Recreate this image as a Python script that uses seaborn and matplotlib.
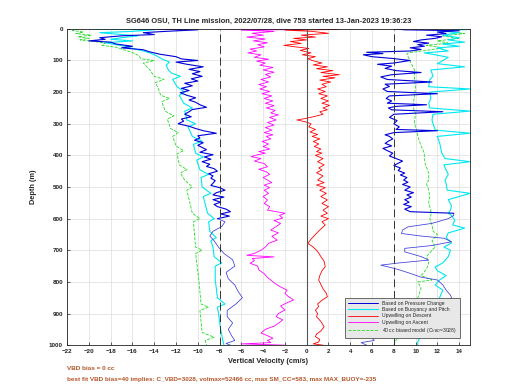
import matplotlib
matplotlib.use("Agg")
import matplotlib.pyplot as plt
import seaborn as sns
import pandas as pd

# ---- data (depth in m, velocity in cm/s) ----
bp_dn_depth = [0, 3, 8, 12, 18, 22, 28, 33, 38, 42, 48, 55, 60, 66, 72, 80, 88, 95, 100, 105,
               112, 120, 128, 135, 142, 150, 158, 165, 172, 180, 188, 195, 202, 210, 218, 225,
               232, 240, 248, 255, 262, 270, 278, 285, 292, 300, 308, 315, 322, 330, 338, 345,
               352, 360, 368, 375, 382, 390, 398, 405, 412, 420, 428, 435, 442, 450, 458, 465,
               472, 480, 488, 495, 502, 510, 518, 525, 532, 540, 548, 555, 562, 570, 578, 585,
               592, 600, 610, 625, 640, 655, 670, 690, 710, 730, 750, 770, 790, 810, 830, 850,
               870, 890, 910, 930, 950, 970, 985, 995, 1000]
bp_dn_vel = [-16, -10, -13, -15, -14, -17, -19, -18.5, -20, -18, -17.5, -16, -17, -15, -14.5,
             -13.5, -12, -11.5, -10, -12, -11, -9.5, -10.8, -9.8, -10.5, -9.6, -10.6, -10, -11.2,
             -10.5, -11.5, -10.8, -11.6, -11, -10.2, -10.8, -10.2, -9.8, -9.2, -10.5, -10.8,
             -11.2, -10.6, -11.5, -11.3, -11.8, -10.8, -10.2, -9.5, -8.3, -10, -9.8, -10.3, -9.5,
             -10, -9.6, -9.2, -9.8, -8.6, -9.4, -8.8, -9.6, -8.9, -9.2, -8.5, -8.2, -9, -8.6,
             -8.8, -8.4, -8.6, -8.8, -8.0, -7.5, -8.3, -8.6, -7.6, -8.6, -7.9, -8.5, -8.2, -7.4,
             -7.0, -7.9, -7.1, -8.2, -7.5, -7.8, -8.6, -8.9, -8.5, -8.1, -7.6, -6.8, -6.6, -7.4,
             -7.2, -6.6, -6.3, -5.9, -6.5, -7.3, -7.3, -6.8, -7.2, -6.9, -6.6, -7.4, -7.0]

bp_up_depth = [1000, 992, 985, 975, 960, 940, 920, 900, 880, 860, 850, 842, 826, 810, 794, 785,
               773, 762, 757, 747, 740, 731, 720, 705, 694, 685, 673, 662, 655, 647, 636, 626,
               615, 600, 590, 583, 578, 570, 562, 555, 548, 540, 532, 525, 518, 510, 500, 492,
               485, 478, 470, 462, 456, 448, 440, 432, 425, 418, 410, 402, 393, 385, 378, 370,
               362, 355, 348, 340, 335, 328, 322, 318, 310, 300, 290, 280, 270, 262, 256, 250,
               245, 240, 235, 228, 220, 212, 205, 198, 190, 182, 175, 168, 160, 152, 145, 138,
               132, 125, 118, 112, 108, 100, 94, 88, 82, 78, 74, 70, 65, 60, 55, 50, 45, 40, 35,
               30, 25, 20, 15, 10, 6, 3, 0]
bp_up_vel = [5.5, 5.0, 6.2, 6.0, 7.5, 9, 10.5, 11.5, 12.5, 13, 13.3, 13.2, 12.8, 12.5, 12, 10.5,
             9.5, 8.5, 8, 6.8, 8.5, 11.2, 10.5, 9, 9, 11.5, 13.3, 12.6, 10.5, 8.7, 8.8, 9.3, 11.5,
             13, 13.5, 13.5, 9.5, 9.0, 9.6, 8.9, 9.4, 9.0, 9.6, 9.2, 9.8, 9.0, 9.5, 8.8, 9.3, 8.9,
             9.2, 8.6, 9.0, 8.4, 8.6, 8.0, 8.4, 8.8, 8.2, 7.6, 7.9, 7.4, 7.0, 7.8, 7.2, 7.5, 7.9,
             7.6, 7.2, 8.0, 12, 8.2, 8.5, 8.0, 8.3, 7.6, 8.0, 12.5, 7.8, 7.5, 8.2, 11, 7.4, 7.8,
             7.3, 7.6, 12, 7.4, 7.0, 7.6, 7.2, 11.5, 7.4, 6.8, 7.8, 10.5, 8.2, 7.2, 7.8, 6.5, 8.0,
             9.5, 8.0, 6.0, 5.2, 7.0, 5.5, 9.5, 10.5, 9.5, 10.8, 10.2, 11.2, 9.8, 10.5, 11.8,
             12.4, 11.0, 12.8, 12, 14, 9, 8]

cy_dn_depth = [0, 3, 8, 12, 18, 22, 28, 33, 38, 44, 50, 56, 62, 70, 76, 85, 95, 105, 115, 130,
               140, 150, 160, 183, 200, 210, 235, 250, 260, 288, 300, 310, 340, 355, 365, 393,
               405, 415, 446, 460, 470, 500, 520, 530, 583, 600, 610, 640, 660, 670, 690, 720,
               740, 750, 794, 820, 850, 870, 880, 900, 950, 985, 1000]
cy_dn_vel = [-20, -14, -16, -19, -17, -15.5, -17, -18, -16, -18.5, -17.5, -16.5, -16, -15, -14.4,
             -13.8, -13.3, -12.6, -12.9, -12.7, -12.4, -11.6, -12.3, -11.9, -11.2, -11.7, -11.3,
             -10.5, -11.2, -11.0, -10.2, -10.9, -10.5, -9.6, -10.4, -10.2, -9.5, -10.1, -9.8,
             -9.0, -9.7, -9.6, -8.8, -9.5, -9.1, -8.5, -9.0, -8.9, -8.3, -8.8, -8.6, -8.5, -7.8,
             -8.4, -8.4, -8.3, -8.2, -7.5, -8.2, -8.1, -7.9, -7.7, -7.6]

cy_up_depth = [1000, 990, 975, 960, 940, 900, 870, 850, 826, 810, 794, 780, 765, 753, 740, 720,
               700, 690, 677, 660, 645, 630, 620, 605, 590, 583, 573, 560, 540, 520, 510, 490,
               478, 460, 446, 430, 420, 410, 393, 375, 360, 340, 330, 320, 300, 288, 270, 260,
               250, 235, 220, 200, 190, 183, 160, 150, 130, 120, 110, 100, 90, 80, 76, 70, 60, 55,
               48, 42, 35, 28, 20, 12, 6, 2, 0]
cy_up_vel = [10.2, 10.2, 10.4, 10.5, 11, 11.5, 12, 12.2, 12.5, 11.8, 12.2, 12.8, 12.0, 11.8,
             12.5, 13.0, 13.2, 12.6, 13.3, 12.8, 13.0, 14.5, 13.4, 13.6, 13.3, 13.0, 13.2, 13.3,
             13.0, 15, 12.9, 12.8, 12.7, 13, 12.8, 12.6, 15, 12.7, 12.4, 12.3, 12.2, 12.0, 15,
             11.8, 11.6, 11.5, 11.6, 15, 11.3, 11.2, 11.4, 11.3, 15, 11.2, 11.3, 11.6, 11.4, 14.5,
             12, 12.5, 13, 11.5, 10.8, 13, 12, 14, 12.5, 14.5, 13, 14, 12.5, 14, 12, 14.8, 15]

gr_dn_depth = [0, 5, 10, 15, 20, 25, 30, 35, 40, 45, 52, 58, 66, 75, 85, 95, 100, 108, 130, 150,
               160, 170, 183, 210, 220, 230, 260, 275, 285, 315, 328, 340, 370, 385, 395, 430,
               445, 456, 478, 500, 510, 583, 600, 610, 690, 700, 710, 794, 870, 880, 890, 960,
               975, 985, 1000]
gr_dn_vel = [-21, -21.5, -20.5, -21.2, -19.8, -21, -20, -20.8, -19.5, -18.5, -18.8, -17.5, -16.8,
             -16.0, -15.4, -15.2, -14, -15, -14.4, -14.0, -13.1, -13.9, -13.7, -13.4, -12.6,
             -13.3, -13.0, -12.2, -12.8, -12.5, -11.8, -12.3, -12.0, -11.3, -11.9, -11.7, -11.0,
             -11.6, -11.2, -10.5, -11.0, -10.5, -9.8, -10.4, -10.2, -9.6, -10.2, -9.9, -9.7,
             -9.0, -9.8, -9.6, -8.5, -9.3, -9.2]

gr_up_depth = [1000, 985, 970, 950, 920, 900, 870, 840, 820, 800, 794, 780, 760, 740, 720, 700,
               690, 670, 650, 640, 620, 600, 590, 573, 550, 530, 510, 490, 478, 456, 446, 430,
               410, 393, 370, 340, 320, 300, 288, 270, 250, 235, 210, 183, 160, 130, 110, 95, 80,
               76, 68, 60, 52, 45, 38, 30, 22, 15, 8, 3, 0]
gr_up_vel = [8.0, 8.2, 8.5, 9.0, 9.5, 9.8, 10, 10.3, 10.5, 10.2, 11.5, 10.5, 11, 11.2, 11, 11.5,
             11.8, 11.5, 12, 11.6, 11.5, 11.3, 11.4, 11.4, 11.2, 11.3, 11.2, 11.0, 11.2, 11.2,
             11.1, 10.9, 10.8, 10.8, 10.5, 10.2, 10.1, 9.9, 9.9, 10.0, 9.8, 9.8, 9.9, 10.0, 9.9,
             9.9, 9.6, 9.4, 9.2, 9.3, 11, 12.5, 11, 13, 12, 14, 12.5, 14.5, 13, 14, 15]

mg_depth = [0, 2, 4, 8, 14, 20, 26, 32, 38, 44, 50, 57, 64, 70, 76, 82, 90, 96, 102, 108, 115,
            122, 130, 137, 144, 152, 160, 168, 176, 183, 190, 198, 205, 212, 220, 228, 235, 243,
            250, 258, 266, 272, 280, 288, 296, 304, 312, 320, 328, 335, 340, 348, 356, 364, 372,
            380, 388, 393, 398, 404, 410, 418, 426, 436, 444, 452, 460, 470, 478, 486, 494, 502,
            510, 520, 530, 541, 552, 562, 573, 583, 590, 598, 606, 615, 625, 636, 645, 656, 668,
            678, 690, 700, 710, 716, 721, 726, 733, 741, 750, 762, 774, 786, 794, 805, 816, 826,
            836, 846, 857, 866, 876, 889, 900, 910, 920, 931, 940, 950, 962, 970, 978, 985, 992,
            996, 1000]
mg_vel = [-7.5, 0, -6, -3, -5, -4, -5.5, -3.8, -4.9, -3.6, -4.5, -3.9, -5.2, -4.6, -5.4, -4.2,
          -4.8, -3.5, -4.6, -3.8, -4.3, -3.1, -4.0, -3.0, -3.8, -3.3, -4.2, -3.5, -4.4, -3.7,
          -4.3, -3.4, -4.1, -3.2, -3.9, -3.1, -3.8, -3.0, -3.7, -2.9, -3.3, -2.6, -3.4, -2.8,
          -3.6, -3.0, -3.8, -3.2, -3.9, -3.1, -3.7, -3.3, -4.1, -3.5, -4.0, -3.4, -4.4, -3.8,
          -4.5, -5.1, -4.2, -4.8, -3.9, -3.6, -4.4, -3.7, -3.4, -4.0, -3.6, -3.2, -3.9, -3.4,
          -3.9, -3.5, -4.0, -3.6, -3.9, -3.4, -3.6, -2.0, -2.5, -2.2, -3.0, -2.4, -2.8, -3.3,
          -2.6, -3.2, -2.7, -3.5, -3.8, -4.2, -4.8, -5.5, -3.0, -5.0, -4.8, -5.2, -4.5, -4.4,
          -3.9, -3.6, -3.3, -2.9, -2.4, -1.8, -2.0, -1.7, -1.2, -1.8, -2.4, -2.0, -2.6, -2.8,
          -2.2, -2.6, -3.0, -3.8, -4.2, -3.6, -3.1, -3.6, -3.3, -6.0, -2.0]

rd_depth = [0, 2, 4, 8, 14, 20, 26, 30, 35, 40, 46, 52, 57, 62, 68, 76, 82, 88, 94, 100, 108,
            114, 120, 126, 132, 138, 145, 150, 155, 162, 168, 175, 183, 190, 198, 205, 212, 220,
            228, 235, 242, 250, 256, 262, 270, 278, 284, 288, 294, 300, 310, 318, 326, 334, 340,
            348, 356, 364, 372, 380, 388, 393, 400, 410, 420, 430, 440, 446, 455, 465, 478, 486,
            494, 502, 510, 520, 530, 541, 552, 562, 573, 583, 592, 600, 610, 620, 636, 650, 665,
            678, 690, 700, 709, 720, 735, 752, 765, 780, 794, 808, 822, 836, 847, 858, 870, 878,
            890, 900, 910, 925, 942, 955, 965, 973, 982, 990, 996, 1000]
rd_vel = [1, 3.0, -2, 0.5, 2.0, -0.5, 0.8, -1.2, 0.0, -1.5, -0.5, -2.1, -1.0, 0.2, -0.6, 0.4,
          -0.4, 0.8, 0.1, 0.5, 1.4, 0.6, 1.9, 0.9, 2.4, 1.3, 3.0, 1.5, 2.6, 1.2, 2.2, 1.4, 1.8,
          1.0, 1.7, 1.1, 1.9, 1.3, 2.0, 1.4, 2.1, 1.5, 1.9, 1.2, 1.5, 0.6, -0.2, -0.9, -0.1, 0.4,
          0.2, 0.8, 0.3, 1.0, 0.5, 1.2, 0.6, 1.1, 0.7, 1.3, 0.9, 1.4, 0.8, 1.5, 1.0, 1.6, 1.1,
          1.4, 0.9, 1.5, 1.0, 1.6, 0.9, 1.7, 1.2, 1.8, 1.3, 1.9, 1.4, 2.0, 1.5, 1.9, 1.3, 2.0,
          1.4, 1.7, 1.2, 0.8, 0.4, 0.1, 0.6, 0.9, 1.1, 1.3, 1.6, 1.7, 1.4, 1.2, 1.1, 1.3, 1.5,
          1.8, 1.9, 1.4, 1.0, 1.1, 0.8, 1.0, 0.9, 1.3, 1.6, 1.3, 0.9, 0.8, 1.2, 1.1, 0.6, 1.5]

x_ticks = list(range(-22, 16, 2))
y_ticks = list(range(0, 1001, 100))
title = "SG646 OSU, TH Line mission, 2022/07/28, dive 753 started 13-Jan-2023 19:36:23"
note1 = "VBD bias = 0 cc"
note2 = ("best fit VBD bias=40 implies: C_VBD=3028, volmax=52466 cc, "
         "max SM_CC=583, max MAX_BUOY=-235")

BLUE = "#0000d8"
BLUE_THIN = "#3c3cdc"
CYAN = "#00e8f0"
RED = "#ff0000"
MAG = "#ff00ff"
GREEN = "#22dd22"

sns.set_theme(style="whitegrid", rc={
    "grid.color": "#e2e2e2", "grid.linewidth": 0.6,
    "axes.edgecolor": "#222222", "axes.linewidth": 0.6,
    "xtick.direction": "in", "ytick.direction": "in",
    "xtick.bottom": True, "ytick.left": True,
    "xtick.major.size": 2.5, "ytick.major.size": 2.5,
    "xtick.major.width": 0.5, "ytick.major.width": 0.5,
})
plt.rcParams["font.family"] = ["Liberation Sans", "DejaVu Sans"]

fig = plt.figure(figsize=(5.2, 3.9), dpi=100)
ax = fig.add_axes([0.129, 0.115, 0.775, 0.811])


def prof(depth, vel, color, ls="-", lw=0.6):
    df = pd.DataFrame({"depth": depth, "vel": vel})
    sns.lineplot(data=df, x="vel", y="depth", sort=False, estimator=None, orient="y",
                 color=color, linestyle=ls, linewidth=lw, ax=ax, legend=False)


# split the pressure-change profile where sampling gets sparse (below ~600 m)
n_dn = bp_dn_depth.index(600) + 1
n_up = bp_up_depth.index(583) + 1

prof(gr_dn_depth, gr_dn_vel, GREEN, ls="--")
prof(gr_up_depth, gr_up_vel, GREEN, ls="--")
prof(cy_dn_depth, cy_dn_vel, CYAN, lw=0.8)
prof(cy_up_depth, cy_up_vel, CYAN, lw=0.8)
prof(bp_dn_depth[:n_dn], bp_dn_vel[:n_dn], BLUE, lw=0.8)
prof(bp_dn_depth[n_dn - 1:], bp_dn_vel[n_dn - 1:], BLUE_THIN, lw=0.55)
prof(bp_up_depth[:n_up], bp_up_vel[:n_up], BLUE_THIN, lw=0.55)
prof(bp_up_depth[n_up - 1:], bp_up_vel[n_up - 1:], BLUE, lw=0.8)
prof(mg_depth, mg_vel, MAG, lw=0.6)
prof(rd_depth, rd_vel, RED, lw=0.6)

ax.axvline(-8, color="#333333", lw=0.7, ls=(0, (8, 4)))
ax.axvline(8, color="#333333", lw=0.7, ls=(0, (8, 4)))
ax.axvline(0, color="#555555", lw=0.8)

ax.set_xlim(-22, 15)
ax.set_ylim(1000, 0)
ax.set_xticks(x_ticks)
ax.set_yticks(y_ticks)
ax.tick_params(labelsize=4.5, pad=3, colors="#222222")
for t in ax.get_xticklabels() + ax.get_yticklabels():
    t.set_fontweight("bold")
ax.set_xlabel("")
ax.set_ylabel("")

handles = [
    plt.Line2D([], [], color=BLUE, lw=0.7),
    plt.Line2D([], [], color=CYAN, lw=0.8),
    plt.Line2D([], [], color=RED, lw=0.6),
    plt.Line2D([], [], color=MAG, lw=0.6),
    plt.Line2D([], [], color=GREEN, lw=0.6, ls="--"),
]
labels = ["Based on Pressure Change", "Based on Buoyancy and Pitch",
          "Upwelling on Descent", "Upwelling on Ascent",
          "40 cc biased model (C$_{VBD}$=3028)"]
leg = ax.legend(handles, labels, loc="lower right", bbox_to_anchor=(0.98, 0.015),
                fontsize=3.6, frameon=True, fancybox=False, handlelength=6,
                labelspacing=0.25, borderpad=0.6, handletextpad=0.8)
leg.get_frame().set_facecolor("#e8e8e8")
leg.get_frame().set_edgecolor("#333333")
leg.get_frame().set_linewidth(0.5)
leg.get_frame().set_alpha(1)

fig.text(0.516, 0.944, title, ha="center", va="center", fontsize=5.4, fontweight="bold")
fig.text(0.516, 0.074, "Vertical Velocity (cm/s)", ha="center", va="center",
         fontsize=5.3, fontweight="bold")
fig.text(0.064, 0.52, "Depth (m)", ha="center", va="center", rotation=90,
         fontsize=5.3, fontweight="bold")
fig.text(0.129, 0.056, note1, ha="left", va="center", fontsize=4.6,
         fontweight="bold", color="#b5562a")
fig.text(0.129, 0.026, note2, ha="left", va="center", fontsize=4.6,
         fontweight="bold", color="#b5562a")

fig.savefig("out.png", dpi=100)
